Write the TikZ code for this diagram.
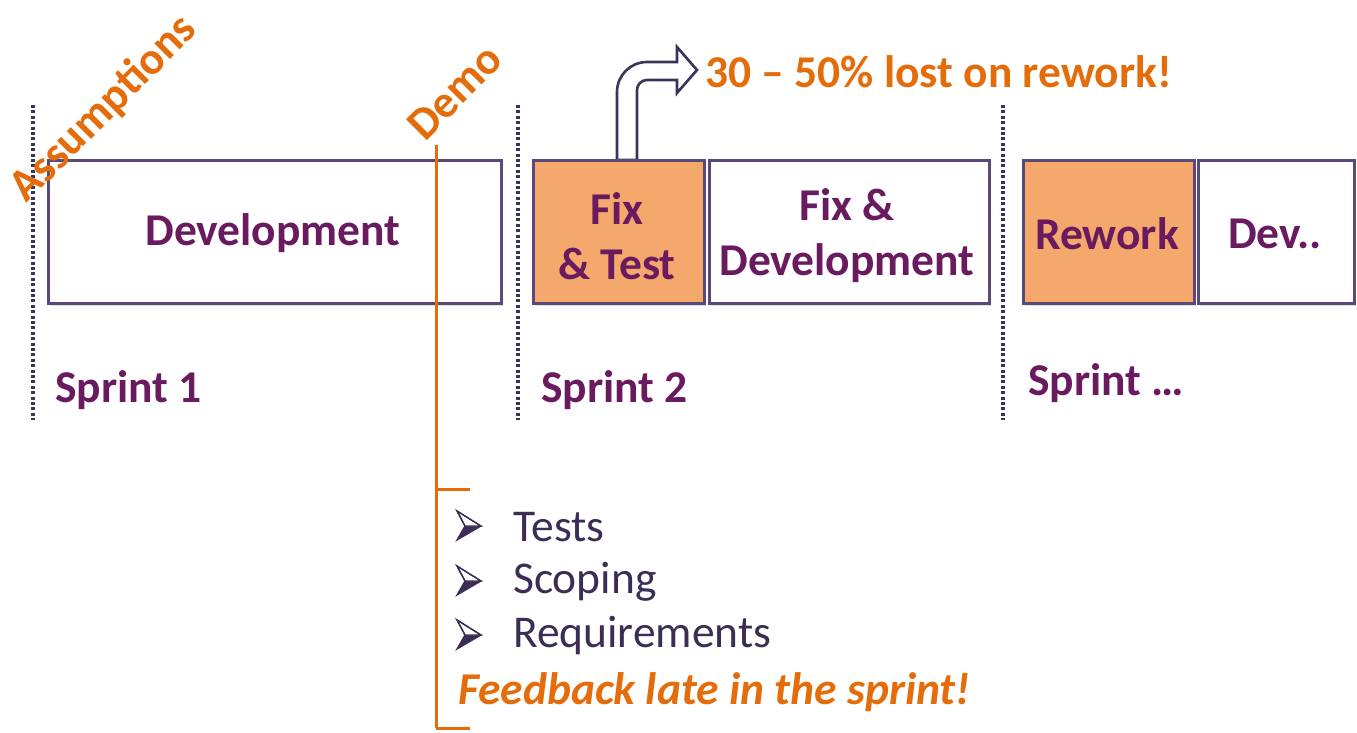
\documentclass[tikz,border=0pt]{standalone}
\usepackage{fontspec}
\setmainfont{Carlito}
\usetikzlibrary{shadows}
\definecolor{plum}{RGB}{106,26,94}
\definecolor{boxline}{RGB}{92,72,122}
\definecolor{accent}{RGB}{228,108,10}
\definecolor{navy}{RGB}{58,52,88}
\definecolor{bullettext}{RGB}{60,45,85}
\definecolor{hotfill}{RGB}{244,168,108}
\newcommand\bigtext{\fontsize{45.5}{55}\selectfont}
\tikzset{
  phase/.style={draw=boxline, line width=2.8pt, fill=white, anchor=north west,
    inner sep=0pt,
    drop shadow={shadow xshift=2pt, shadow yshift=-3pt, opacity=0.25}},
  hot/.style={phase, fill=hotfill},
  phasetext/.style={text=plum, align=center, inner sep=0pt, font=\bigtext\bfseries},
  sprintline/.style={draw=navy, line width=3.4pt, dash pattern=on 3pt off 2.4pt},
  sprintlabel/.style={anchor=west, text=plum, inner sep=0pt, font=\bigtext\bfseries},
  marker/.style={text=accent, inner sep=0pt, font=\bigtext\bfseries},
  item/.style={anchor=west, text=bullettext, inner sep=0pt, font=\bigtext},
  demoline/.style={draw=accent, line width=3pt},
  % three-dimensional arrowhead bullet, origin at its tip
  arrowbullet/.pic={
    \fill[bullettext] (-16,0) -- (0,0) -- (-24,14) -- cycle;
    \draw[bullettext, line width=1.3pt, line join=miter, fill=white]
      (-16,0) -- (-24,-15) -- (0,0) -- cycle;
    \draw[bullettext, line width=1.3pt, line join=miter]
      (-24,-15) -- (0,0) -- (-24,14) -- (-16,0) -- cycle;
  }
}
\begin{document}
\begin{tikzpicture}[x=1pt,y=-1pt]
\useasboundingbox (0,0) rectangle (1357,733);

% sprint boundaries
\coordinate (s1top) at (33,105);   \coordinate (s1bot) at (33,420);
\coordinate (s2top) at (518,105);  \coordinate (s2bot) at (518,420);
\coordinate (s3top) at (1003,105); \coordinate (s3bot) at (1003,420);
\draw[sprintline] (s1top) -- (s1bot);
\draw[sprintline] (s2top) -- (s2bot);
\draw[sprintline] (s3top) -- (s3bot);

% work blocks
\node[phase, minimum width=453pt, minimum height=143pt] (dev) at (47,159) {};
\node[phasetext] (devtext) at (273,233) {Development};

% bent arrow out of the fix & test block
\draw[draw=navy, line width=2.6pt, fill=white, line join=miter]
  (617,160) -- (617,92) .. controls (617,75.4) and (630.4,62) .. (647,62)
  -- (677,62) -- (677,47) -- (697,70) -- (677,93) -- (677,80) -- (647,80)
  .. controls (641.5,80) and (637,84.5) .. (637,90) -- (637,160) -- cycle;

\node[hot, minimum width=171pt, minimum height=143pt] (fixtest) at (532,159) {};
\node[phasetext] (fixtesttext) at (617,236) {Fix\\\& Test};
\node[phase, minimum width=280pt, minimum height=143pt] (fixdev) at (708,159) {};
\node[phasetext] (fixdevtext) at (847,236) {Fix \&\\Development};
\node[hot, minimum width=171pt, minimum height=143pt] (rework) at (1022,159) {};
\node[phasetext] (reworktext) at (1107,234) {Rework};
\node[phase, minimum width=156pt, minimum height=143pt] (devmore) at (1197,159) {};
\node[phasetext] (devmoretext) at (1275,234) {Dev..};

\node[marker, anchor=west] (rework-note) at (705,72) {30 – 50\% lost on rework!};

% sprint labels
\node[sprintlabel] (sp1) at (55,390) {Sprint 1};
\node[sprintlabel] (sp2) at (541,390) {Sprint 2};
\node[sprintlabel] (sp3) at (1028,383) {Sprint …};

% milestones
\node[marker, rotate=45] (assume) at (104,109) {Assumptions};
\node[marker, rotate=45] (demo) at (455,92) {Demo};

% demo feedback bracket
\coordinate (dtop) at (436,145);
\coordinate (dbot) at (436,728);
\coordinate (tick1) at (470,489);
\coordinate (tick2) at (470,728);
\draw[demoline] (dtop) -- (dbot);
\draw[demoline] (tick1) -- (tick1 -| dtop);
\draw[demoline] (tick2) -- (tick2 -| dtop);

% feedback items
\pic at (481,526) {arrowbullet};
\node[item] (i1) at (513,527) {Tests};
\pic at (481,581) {arrowbullet};
\node[item] (i2) at (513,582) {Scoping};
\pic at (481,635) {arrowbullet};
\node[item] (i3) at (513,636) {Requirements};
\node[anchor=west, text=accent, inner sep=0pt, font=\bigtext\bfseries\itshape] (late) at (458,692) {Feedback late in the sprint!};
\end{tikzpicture}
\end{document}
